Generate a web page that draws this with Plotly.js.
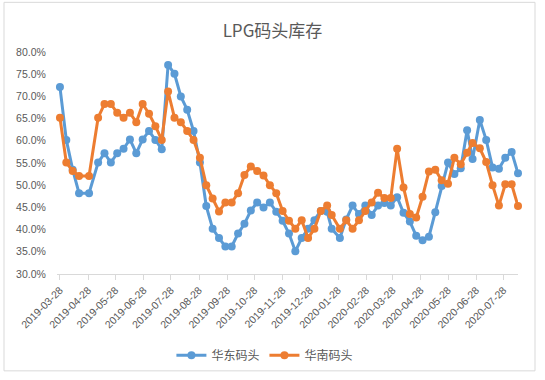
<!DOCTYPE html>
<html>
<head>
<meta charset="utf-8">
<script src="https://cdn.plot.ly/plotly-3.0.1.min.js"></script>
<style>
  html, body { margin: 0; padding: 0; background: #ffffff; }
  #chart { width: 545px; height: 380px; }
</style>
</head>
<body>
<div id="chart"></div>
<script>
// Weekly observation dates
const dates = [
  '2019-03-28','2019-04-04','2019-04-11','2019-04-18','2019-04-29','2019-05-09','2019-05-16','2019-05-23',
  '2019-05-30','2019-06-06','2019-06-13','2019-06-20','2019-06-27','2019-07-04','2019-07-11','2019-07-18',
  '2019-07-25','2019-08-01','2019-08-08','2019-08-15','2019-08-22','2019-08-29','2019-09-05','2019-09-12',
  '2019-09-19','2019-09-26','2019-10-03','2019-10-10','2019-10-17','2019-10-24','2019-10-31','2019-11-07',
  '2019-11-14','2019-11-21','2019-11-28','2019-12-05','2019-12-12','2019-12-19','2019-12-26','2020-01-02',
  '2020-01-09','2020-01-16','2020-01-21','2020-01-30','2020-02-06','2020-02-13','2020-02-20','2020-02-27',
  '2020-03-05','2020-03-12','2020-03-19','2020-03-26','2020-04-02','2020-04-09','2020-04-16','2020-04-23',
  '2020-04-30','2020-05-07','2020-05-14','2020-05-21','2020-05-28','2020-06-04','2020-06-11','2020-06-18',
  '2020-06-24','2020-07-02','2020-07-09','2020-07-16','2020-07-23','2020-07-30','2020-08-06','2020-08-13'
];

// 华东码头 (East China terminals), percent
const eastChina = [
  72.1, 60.2, 53.5, 48.2, 48.2, 55.1, 57.2, 55.1,
  57.2, 58.2, 60.3, 57.2, 60.3, 62.2, 60.2, 58.1,
  77.1, 75.1, 70.0, 67.0, 62.2, 55.1, 45.3, 40.2,
  38.1, 36.2, 36.2, 39.1, 41.3, 44.3, 46.1, 45.0,
  46.1, 44.0, 42.0, 39.1, 35.1, 38.1, 40.2, 42.1,
  44.2, 44.0, 40.2, 38.1, 42.3, 45.4, 43.5, 45.4,
  43.3, 45.4, 46.0, 45.4, 47.3, 43.8, 41.8, 38.6,
  37.6, 38.4, 43.9, 49.8, 55.1, 52.5, 53.8, 62.4,
  55.9, 64.7, 60.2, 54.0, 53.7, 56.2, 57.5, 52.7
];

// 华南码头 (South China terminals), percent
const southChina = [
  65.2, 55.1, 53.2, 52.1, 52.1, 65.2, 68.3, 68.3,
  66.3, 65.2, 66.3, 64.2, 68.3, 66.1, 63.3, 60.2,
  71.1, 65.2, 64.2, 62.2, 60.2, 56.2, 50.0, 47.0,
  44.1, 46.1, 46.1, 48.2, 52.3, 54.2, 53.2, 52.2,
  50.0, 48.2, 44.2, 42.0, 40.2, 42.1, 38.1, 40.2,
  44.2, 45.4, 43.3, 40.2, 42.1, 40.2, 42.1, 44.2,
  46.1, 48.3, 47.1, 47.1, 58.2, 49.5, 43.5, 42.7,
  47.4, 53.1, 53.5, 51.1, 50.3, 56.2, 54.7, 57.3,
  59.5, 58.3, 55.2, 50.0, 45.4, 50.2, 50.2, 45.3
];

const seriesNames = ['华东码头', '华南码头'];
const xTickVals = [
  '2019-03-28','2019-04-28','2019-05-28','2019-06-28','2019-07-28','2019-08-28','2019-09-28',
  '2019-10-28','2019-11-28','2019-12-28','2020-01-28','2020-02-28','2020-03-28','2020-04-28',
  '2020-05-28','2020-06-28','2020-07-28'
];
const xTickText = xTickVals.slice();
const yTickVals = [30, 35, 40, 45, 50, 55, 60, 65, 70, 75, 80];
const yTickText = ['30.0%', '35.0%', '40.0%', '45.0%', '50.0%', '55.0%', '60.0%', '65.0%', '70.0%', '75.0%', '80.0%'];
const titleText = 'LPG码头库存';

const blue = '#5B9BD5';
const orange = '#ED7D31';
const grey = '#595959';
const lineGrey = '#d9d9d9';
const numFont = 'Liberation Sans, Arial, sans-serif';
const cjkFont = 'Noto Sans CJK SC, sans-serif';

const traces = [
  {
    x: dates, y: eastChina, name: seriesNames[0], type: 'scatter', mode: 'lines+markers',
    line: { color: blue, width: 3 },
    marker: { color: blue, size: 8 },
    cliponaxis: false
  },
  {
    x: dates, y: southChina, name: seriesNames[1], type: 'scatter', mode: 'lines+markers',
    line: { color: orange, width: 3 },
    marker: { color: orange, size: 8 },
    cliponaxis: false
  }
];

const layout = {
  width: 545, height: 380,
  margin: { l: 57, r: 27, t: 52, b: 104.5 },
  paper_bgcolor: '#ffffff',
  plot_bgcolor: '#ffffff',
  showlegend: true,
  title: {
    text: titleText,
    font: { family: cjkFont, size: 17, color: grey },
    xref: 'container', x: 0.5, xanchor: 'center',
    yref: 'container', y: 1 - 31 / 380, yanchor: 'middle'
  },
  xaxis: {
    type: 'date',
    range: ['2019-03-24 18:00', '2020-08-13'],
    tickmode: 'array', tickvals: xTickVals, ticktext: xTickText,
    tickangle: -45,
    tickfont: { family: numFont, size: 10.5, color: grey },
    showgrid: false, zeroline: false,
    showline: true, linecolor: lineGrey, linewidth: 1,
    ticks: 'outside', ticklen: 5, tickcolor: lineGrey, tickwidth: 1
  },
  yaxis: {
    range: [30, 80],
    tickmode: 'array', tickvals: yTickVals, ticktext: yTickText,
    tickfont: { family: numFont, size: 10.5, color: grey },
    showgrid: false, zeroline: false, showline: false,
    ticks: 'outside', ticklen: 8, tickcolor: 'rgba(0,0,0,0)'
  },
  legend: {
    orientation: 'h',
    x: 0.451, xanchor: 'center',
    y: -0.36, yanchor: 'middle',
    font: { family: cjkFont, size: 12, color: grey },
    bgcolor: 'rgba(0,0,0,0)'
  },
  shapes: [{
    type: 'rect', xref: 'paper', yref: 'paper',
    x0: (4 - 57) / 461, x1: (535 - 57) / 461,
    y0: (275.5 - 373) / 223.5, y1: (275.5 - 2) / 223.5,
    line: { color: lineGrey, width: 1 },
    fillcolor: 'rgba(0,0,0,0)',
    layer: 'below'
  }],
  hovermode: false
};

Plotly.newPlot('chart', traces, layout, { staticPlot: true, displayModeBar: false });
</script>
</body>
</html>
